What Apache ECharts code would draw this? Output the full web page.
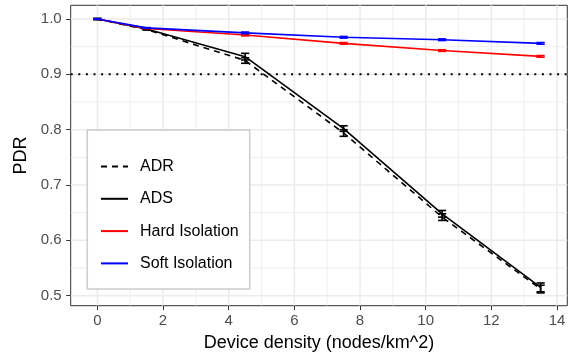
<!DOCTYPE html>
<html><head><meta charset="utf-8">
<script src="https://cdn.jsdelivr.net/npm/echarts@6/dist/echarts.min.js"></script>
<style>html,body{margin:0;padding:0;background:#fff}#c{width:570px;height:359px}</style>
</head><body><div id="c"></div>
<script>
const xs = [0, 1.5, 4.5, 7.5, 10.5, 13.5];
const adr = [1.0, 0.981, 0.925, 0.794, 0.642, 0.512];
const adrErr = [0.001, 0.001, 0.005, 0.006, 0.006, 0.007];
const ads = [1.0, 0.982, 0.932, 0.802, 0.648, 0.515];
const adsErr = [0.001, 0.001, 0.006, 0.005, 0.006, 0.008];
const hard = [1.0, 0.983, 0.971, 0.956, 0.943, 0.9325];
const hardErr = [0.0005, 0.0005, 0.0015, 0.0015, 0.0015, 0.0015];
const soft = [1.0, 0.984, 0.975, 0.967, 0.9626, 0.956];
const softErr = [0.0005, 0.0005, 0.0015, 0.0015, 0.0015, 0.0015];
const xTicks = [0, 2, 4, 6, 8, 10, 12, 14];
const xMinor = [1, 3, 5, 7, 9, 11, 13];
const yTicks = [0.5, 0.6, 0.7, 0.8, 0.9, 1.0];
const yMinor = [0.55, 0.65, 0.75, 0.85, 0.95];
const threshold = 0.9;
const names = ['ADR', 'ADS', 'Hard Isolation', 'Soft Isolation'];

const XMIN = -0.8125, XMAX = 14.3125, YMIN = 0.4819, YMAX = 1.0248;
const pts = v => xs.map((x, i) => [x, v[i]]);
const errData = (v, e) => xs.map((x, i) => [x, v[i] - e[i], v[i] + e[i]]);
function errSeries(v, e, color) {
  return {
    type: 'custom', z: 3, silent: true,
    data: errData(v, e),
    renderItem: function (params, api) {
      const x = api.value(0), lo = api.value(1), hi = api.value(2);
      const t = api.coord([x, hi]), b = api.coord([x, lo]);
      const l = api.coord([x - 0.125, hi]), r = api.coord([x + 0.125, hi]);
      const st = { stroke: color, lineWidth: 1.6, fill: null };
      return { type: 'group', children: [
        { type: 'line', shape: { x1: t[0], y1: t[1], x2: b[0], y2: b[1] }, style: st },
        { type: 'line', shape: { x1: l[0], y1: t[1], x2: r[0], y2: t[1] }, style: st },
        { type: 'line', shape: { x1: l[0], y1: b[1], x2: r[0], y2: b[1] }, style: st }
      ]};
    }
  };
}
// grid / reference lines; dir 'x' = vertical, 'y' = horizontal
function refLines(dir, vals, width, color, dash, z) {
  return {
    type: 'custom', z: z, silent: true,
    data: vals.map(v => [v]),
    encode: dir === 'x' ? { x: 0 } : { y: 0 },
    renderItem: function (params, api) {
      const cs = params.coordSys;
      const v = api.value(0);
      let shape;
      if (dir === 'x') {
        const p = api.coord([v, YMIN]);
        shape = { x1: p[0], y1: cs.y, x2: p[0], y2: cs.y + cs.height };
      } else {
        const p = api.coord([XMIN, v]);
        shape = { x1: cs.x, y1: p[1], x2: cs.x + cs.width, y2: p[1] };
      }
      const style = { stroke: color, lineWidth: width, fill: null };
      if (dash) style.lineDash = dash;
      return { type: 'line', shape: shape, style: style };
    }
  };
}
const chart = echarts.init(document.getElementById('c'), null, { renderer: 'canvas' });
chart.setOption({
  animation: false,
  backgroundColor: '#ffffff',
  grid: { left: 70.7, top: 5.3, right: 2.7, bottom: 53.3, show: true, borderColor: '#333333', borderWidth: 1, backgroundColor: 'transparent', containLabel: false },
  xAxis: {
    type: 'value', min: XMIN, max: XMAX,
    name: 'Device density (nodes/km^2)', nameLocation: 'middle', nameGap: 27.5,
    nameTextStyle: { color: '#000', fontSize: 18, fontFamily: 'Liberation Sans, Arial, sans-serif' },
    axisLine: { show: false, onZero: false },
    axisTick: { show: true, length: 4.5, lineStyle: { color: '#333333', width: 1 }, customValues: xTicks },
    axisLabel: { color: '#4d4d4d', fontSize: 15, margin: 8, fontFamily: 'Liberation Sans, Arial, sans-serif', customValues: xTicks, formatter: v => String(v) },
    splitLine: { show: false }
  },
  yAxis: {
    type: 'value', min: YMIN, max: YMAX,
    name: 'PDR', nameLocation: 'middle', nameGap: 40.5,
    nameTextStyle: { color: '#000', fontSize: 18, fontFamily: 'Liberation Sans, Arial, sans-serif' },
    axisLine: { show: false, onZero: false },
    axisTick: { show: true, length: 4.5, lineStyle: { color: '#333333', width: 1 }, customValues: yTicks },
    axisLabel: { color: '#4d4d4d', fontSize: 15, margin: 9, fontFamily: 'Liberation Sans, Arial, sans-serif', customValues: yTicks, formatter: v => v.toFixed(1) },
    splitLine: { show: false }
  },
  legend: {
    data: names.map(n => ({ name: n })),
    orient: 'vertical', left: 87.3, top: 130,
    padding: [28.5, 11, 17.5, 12.7],
    itemWidth: 27, itemHeight: 16, itemGap: 16.3,
    itemStyle: { opacity: 0 },
    backgroundColor: '#ffffff', borderColor: '#cccccc', borderWidth: 1.5,
    textStyle: { color: '#000', fontSize: 16, fontFamily: 'Liberation Sans, Arial, sans-serif', padding: [0, 0, 0, 7], lineHeight: 16 }
  },
  series: [
    refLines('x', xMinor, 0.8, '#ebebeb', null, 0),
    refLines('y', yMinor, 0.8, '#ebebeb', null, 0),
    refLines('x', xTicks, 1.5, '#ebebeb', null, 0),
    refLines('y', yTicks, 1.5, '#ebebeb', null, 0),
    refLines('y', [threshold], 2, '#000000', [2, 5.6], 1),
    { name: 'ADR', type: 'line', data: pts(adr), showSymbol: false, z: 2,
      lineStyle: { color: '#000', width: 1.6, type: [6, 5] }, itemStyle: { color: '#000' } },
    { name: 'ADS', type: 'line', data: pts(ads), showSymbol: false, z: 2,
      lineStyle: { color: '#000', width: 1.6 }, itemStyle: { color: '#000' } },
    { name: 'Hard Isolation', type: 'line', data: pts(hard), showSymbol: false, z: 2,
      lineStyle: { color: '#ff0000', width: 1.6 }, itemStyle: { color: '#ff0000' } },
    { name: 'Soft Isolation', type: 'line', data: pts(soft), showSymbol: false, z: 2,
      lineStyle: { color: '#0000ff', width: 1.6 }, itemStyle: { color: '#0000ff' } },
    errSeries(adr, adrErr, '#000'),
    errSeries(ads, adsErr, '#000'),
    errSeries(hard, hardErr, '#ff0000'),
    errSeries(soft, softErr, '#0000ff')
  ]
});
</script></body></html>
